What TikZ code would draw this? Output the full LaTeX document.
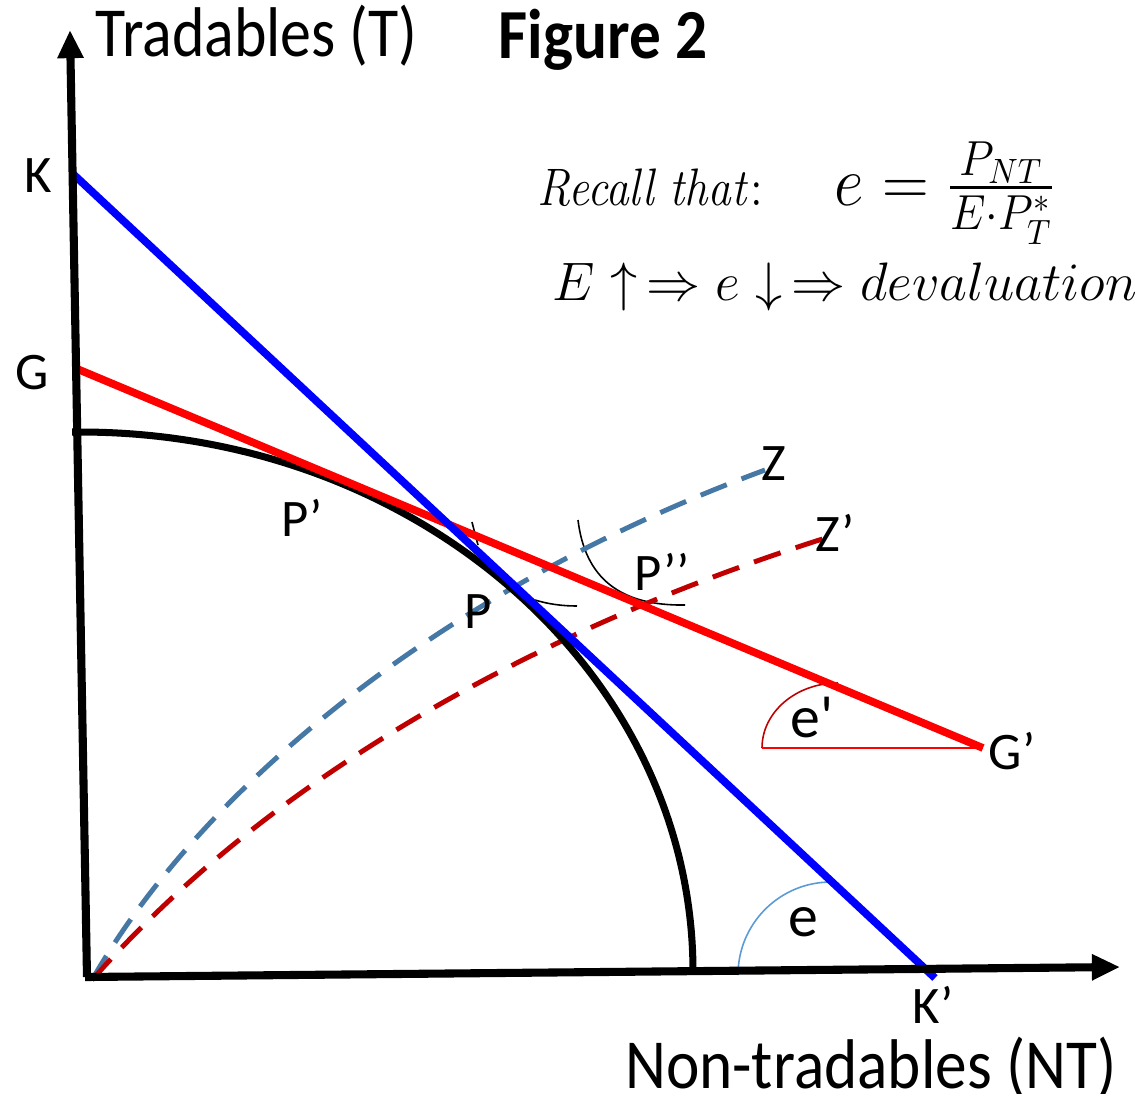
\RequirePackage{fix-cm}
\documentclass[tikz,border=0pt]{standalone}
\usepackage{amsmath}
\usepackage[no-math]{fontspec}
\setmainfont{Carlito}
\newfontfamily\plainfont{Carlito}
\usetikzlibrary{arrows.meta}
\definecolor{dblue}{RGB}{70,120,165}
\definecolor{dred}{RGB}{192,0,0}
\definecolor{lblue}{RGB}{91,155,213}
\tikzset{
  axis/.style={line width=2.3pt,-{Triangle[length=8pt,width=7pt]}},
  budget/.style={line width=2.2pt},
  ppf/.style={line width=2pt,black},
  dashline/.style={line width=1.4pt,dash pattern=on 8pt off 4.5pt},
  thin/.style={line width=0.45pt},
  lbl/.style={inner sep=0pt,font=\fontsize{15}{18}\selectfont},
  big/.style={inner sep=0pt,font=\fontsize{20}{24}\selectfont},
  mathtxt/.style={inner sep=0pt,anchor=base west},
}
\begin{document}
\begin{tikzpicture}[x=0.01cm,y=-0.01cm]
\useasboundingbox[fill=white] (0,0) rectangle (1142,1093);
% key points
\coordinate (O) at (87,977);
\coordinate (Ytip) at (70,30);
\coordinate (Xtip) at (1120,967);
\coordinate (K) at (72,173);
\coordinate (Kp) at (935,978);
\coordinate (G) at (75,368);
\coordinate (Gp) at (983,748);
\coordinate (Oz) at (92,980);
\coordinate (Z) at (765,470);
\coordinate (Zp) at (835,535);
\coordinate (Ppf0) at (72,432);
\coordinate (Ppf1) at (80,432);
\coordinate (Estart) at (738,975);
\coordinate (Epstart) at (762,748);
% indifference curves
\coordinate (I1a) at (472,522);
\coordinate (I1b) at (478,545);
\coordinate (I2a) at (535,600);
\coordinate (I2b) at (577,606);
\coordinate (I3a) at (578,520);
\coordinate (I3b) at (685,605);
\draw[thin] (I1a) .. controls (474,530) and (476,538) .. (I1b);
\draw[thin] (I2a) .. controls (548,604) and (562,606) .. (I2b);
\draw[thin] (I3a) .. controls (585,578) and (620,606) .. (I3b);
% angle arcs
\draw[thin,lblue] (Estart) arc[start angle=180,end angle=270,x radius=93,y radius=93];
\draw[thin,dred] (Epstart) arc[start angle=180,end angle=270,x radius=76,y radius=65];
\draw[thin,red] (Epstart) -- (Gp);
% dashed curves
\draw[dashline,dblue] (Oz) .. controls (200,790) and (440,590) .. (Z);
\draw[dashline,dred] (Oz) .. controls (250,800) and (500,640) .. (Zp);
% PPF
\draw[ppf] (Ppf0) -- (Ppf1) arc[start angle=270,end angle=360,x radius=613,y radius=540];
% budget lines
\draw[budget,red] (G) -- (Gp);
\draw[budget,blue] (K) -- (Kp);
% axes
\draw[axis] (O) -- (Ytip);
\draw[axis] (85,977) -- (Xtip);
% labels
\node[big,anchor=west] (ylab) at (95,36) {\scalebox{0.88}[1]{Tradables (T)}};
\node[big,anchor=west,font=\fontsize{20}{24}\selectfont\bfseries] (fig) at (498,40) {\scalebox{0.9}[1]{Figure 2}};
\node[big,anchor=east] (xlab) at (1117,1068) {\scalebox{0.9}[1]{Non-tradables (NT)}};
\node[lbl] (Kl) at (38,176) {K};
\node[lbl] (Gl) at (32,373) {G};
\node[lbl] (P1l) at (302,518) {P’};
\node[lbl] (Pl) at (478,612) {P};
\node[lbl] (P2l) at (662,572) {P’’};
\node[lbl] (Zl) at (774,464) {Z};
\node[lbl] (Zpl) at (835,533) {Z’};
\node[lbl] (Gpl) at (1012,751) {G’};
\node[lbl] (Kpl) at (933,1005) {K’};
\node[lbl,font=\fontsize{17}{20}\selectfont\plainfont] (epl) at (812,718) {e'};
\node[lbl,font=\fontsize{17}{20}\selectfont] (el) at (803,922) {e};
% formula
\node[mathtxt,font=\fontsize{15}{18}\selectfont] (rec) at (537,205)
  {\scalebox{0.88}[1]{$\mathit{Recall\ that{:}}$}};
\node[mathtxt,font=\fontsize{20}{24}\selectfont] (eq) at (834,205)
  {\scalebox{0.92}[1]{$e=\frac{P_{NT}}{E\cdot P_T^{*}}$}};
\node[mathtxt,font=\fontsize{15.4}{18}\selectfont] (dev) at (552,300)
  {$E\uparrow\,\Rightarrow e\downarrow\,\Rightarrow devaluation$};
\end{tikzpicture}
\end{document}
